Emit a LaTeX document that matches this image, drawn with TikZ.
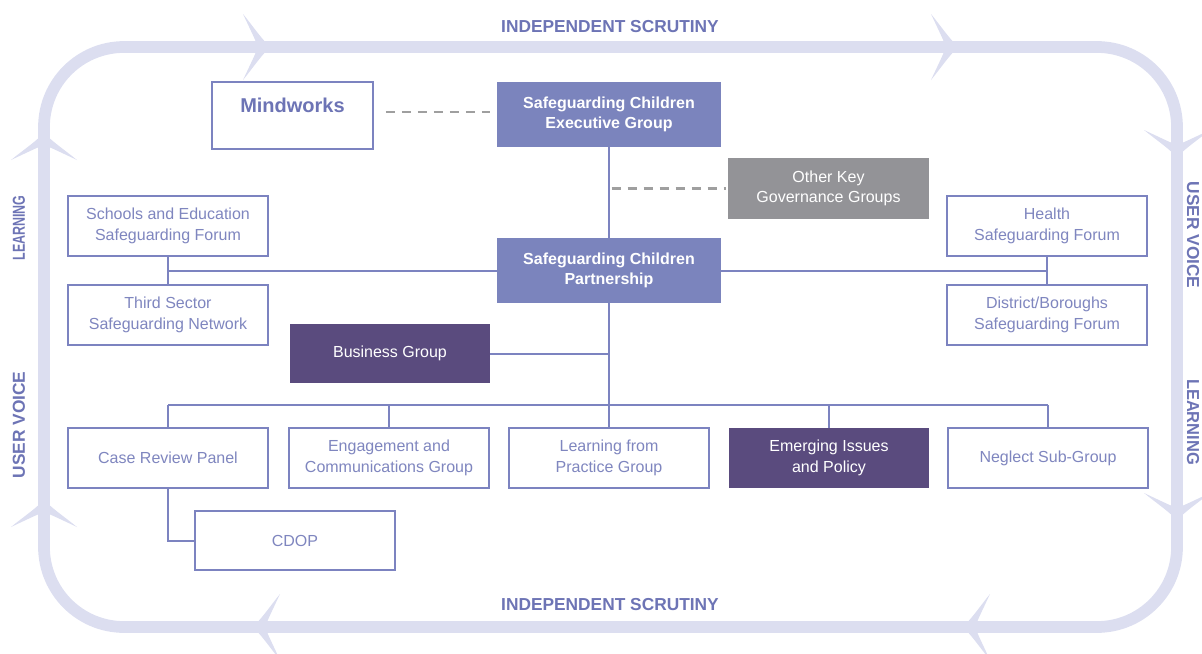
\documentclass[tikz,border=0pt]{standalone}
\usepackage{fontspec}
\setmainfont{Liberation Sans}
\definecolor{loopc}{HTML}{DCDEF0}
\definecolor{edgec}{HTML}{7C83C0}
\definecolor{txtc}{HTML}{7F86BF}
\definecolor{peri}{HTML}{7B84BD}
\definecolor{dpurp}{HTML}{5A4B7E}
\definecolor{greyc}{HTML}{939397}
\definecolor{labc}{HTML}{6D74B5}
\tikzset{
  box/.style={rectangle, align=center, inner sep=2pt, font=\fontsize{12}{15.5}\selectfont},
  wbox/.style={box, draw=edgec, line width=1.4pt, fill=white, text=txtc},
  pbox/.style={box, fill=peri, text=white, font=\fontsize{12}{15.5}\selectfont\bfseries},
  dbox/.style={box, fill=dpurp, text=white},
  gbox/.style={box, fill=greyc, text=white},
  wide/.style={minimum width=150pt, minimum height=45pt},
  conn/.style={draw=edgec, line width=1.5pt},
  dashconn/.style={draw=gray!75, line width=1.6pt, dash pattern=on 7pt off 5pt},
  looplab/.style={text=labc, font=\fontsize{13}{15}\selectfont\bfseries},
  chev/.pic={\fill[loopc] (0,0) .. controls (-10,-10) and (-18,-22) .. (-27,-33)
      .. controls (-20,-18) and (-15,-8) .. (-12,0)
      .. controls (-15,8) and (-20,18) .. (-27,33)
      .. controls (-18,22) and (-10,10) .. cycle;}
}
\begin{document}
\begin{tikzpicture}[x=0.75pt,y=-0.75pt]
\useasboundingbox (0,0) rectangle (1202,653);
% loop
\draw[loopc, line width=8.8pt, rounded corners=60pt] (44,47) rectangle (1177,627);
\pic at (270,47) {chev};
\pic at (958,47) {chev};
\pic[rotate=-90] at (1177,157) {chev};
\pic[rotate=-90] at (1177,520) {chev};
\pic[rotate=180] at (963,627) {chev};
\pic[rotate=180] at (253,627) {chev};
\pic[rotate=90] at (44,500) {chev};
\pic[rotate=90] at (44,133) {chev};
% loop labels
\node[looplab] (is1) at (610,27) {INDEPENDENT SCRUTINY};
\node[looplab] (is2) at (610,605) {INDEPENDENT SCRUTINY};
\node[looplab, rotate=90, xscale=0.72] (lrn1) at (19,228) {LEARNING};
\node[looplab, rotate=90] (uv1) at (19,425) {USER VOICE};
\node[looplab, rotate=-90] (uv2) at (1193,235) {USER VOICE};
\node[looplab, rotate=-90, xscale=0.95] (lrn2) at (1193,422) {LEARNING};
% boxes
\node[wbox, minimum width=120.75pt, minimum height=50.25pt, text depth=15pt, text=labc,
      font=\fontsize{15}{18}\selectfont\bfseries] (mind) at (292.5,115.5) {Mindworks};
\node[pbox, minimum width=168pt, minimum height=48.75pt] (exec) at (609,114.5) {Safeguarding Children\\Executive Group};
\node[gbox, minimum width=150.75pt, minimum height=45.75pt] (other) at (828.5,188.5) {Other Key\\Governance Groups};
\node[pbox, minimum width=168pt, minimum height=48.75pt] (part) at (609,270.5) {Safeguarding Children\\Partnership};
\node[wbox, wide] (schools) at (168,226) {Schools and Education\\Safeguarding Forum};
\node[wbox, wide] (third) at (168,315) {Third Sector\\Safeguarding Network};
\node[wbox, wide] (health) at (1047,226) {Health\\Safeguarding Forum};
\node[wbox, wide] (district) at (1047,315) {District/Boroughs\\Safeguarding Forum};
\node[dbox, minimum width=150pt, minimum height=44.25pt] (business) at (390,353.5) {Business Group};
\node[wbox, wide] (case) at (168,458) {Case Review Panel};
\node[wbox, wide] (engage) at (389,458) {Engagement and\\Communications Group};
\node[wbox, wide] (learnp) at (609,458) {Learning from\\Practice Group};
\node[dbox, wide] (emerg) at (829,458) {Emerging Issues\\and Policy};
\node[wbox, wide] (neglect) at (1048,458) {Neglect Sub-Group};
\node[wbox, minimum width=150pt, minimum height=44.25pt] (cdop) at (295,540.5) {CDOP};
\coordinate (row) at (609,405);
% connectors
\draw[dashconn] ([xshift=9pt]mind.east |- 0,112) -- ([xshift=-5pt]exec.west |- 0,112);
\draw[conn] (exec.south) -- (part.north);
\draw[dashconn] ([xshift=2pt]exec.south |- other.west) -- ([xshift=-1pt]other.west);
\draw[conn] (schools.south) -- (third.north);
\draw[conn] (health.south) -- (district.north);
\draw[conn] (schools.south |- part.west) -- (part.west);
\draw[conn] (part.east) -- (health.south |- part.east);
\draw[conn] (part.south) -- (row);
\draw[conn] (business.east) -- (business.east -| row);
\draw[conn] (case.north |- row) -- (neglect.north |- row);
\foreach \n in {case,engage,learnp,emerg,neglect}{
  \draw[conn] (\n.north |- row) -- (\n.north);
}
\draw[conn] (case.south) |- (cdop.west);
\end{tikzpicture}
\end{document}
